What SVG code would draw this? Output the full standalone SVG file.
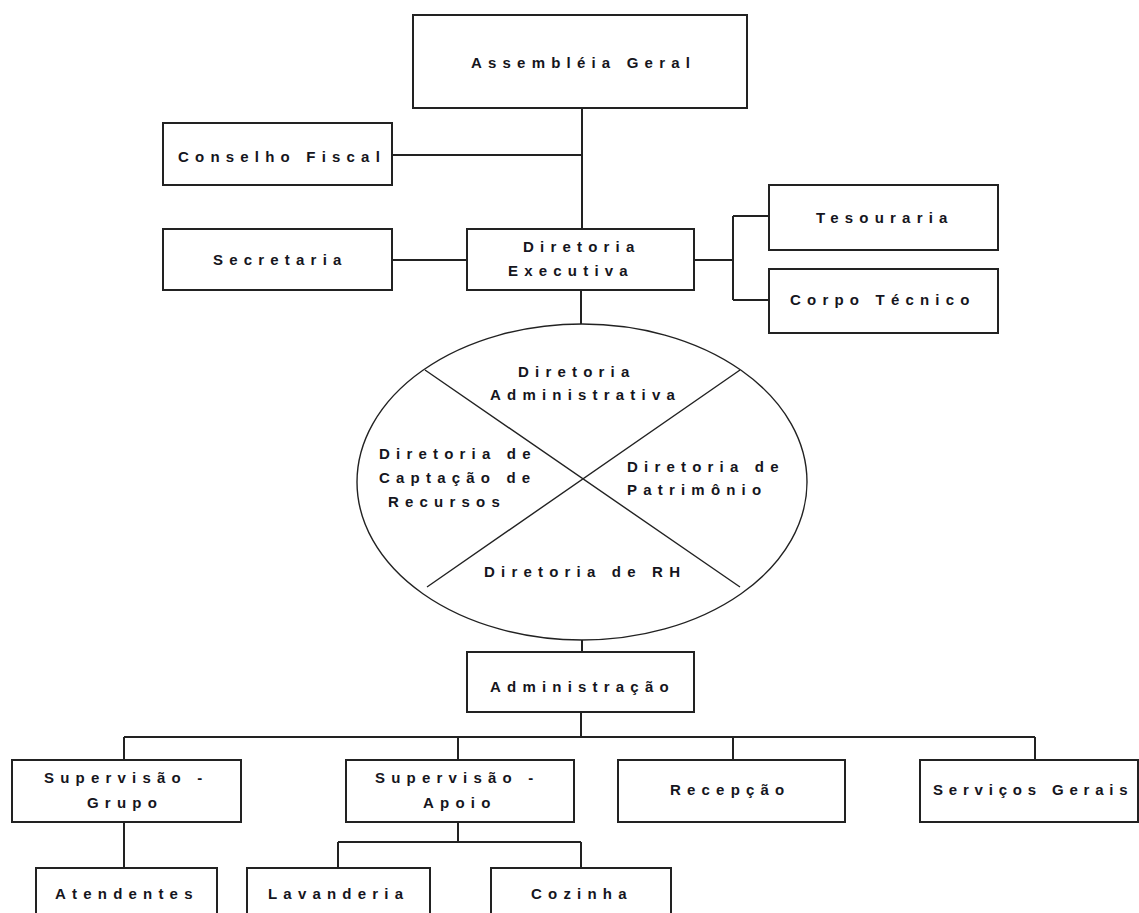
<svg xmlns="http://www.w3.org/2000/svg" width="1139" height="913" viewBox="0 0 1139 913">
<style>
.box{fill:#fff;stroke:#222;stroke-width:2}
.ell{fill:#fff;stroke:#222;stroke-width:1.4}
.con{fill:none;stroke:#222;stroke-width:2}
.div{fill:none;stroke:#222;stroke-width:1.4}
text{font-family:"Liberation Sans",Arial,sans-serif;font-weight:bold;font-size:15px;letter-spacing:6.2px;fill:#151520}
</style>
<rect width="1139" height="913" fill="#fff"/>
<g id="connectors">
<path class="con" d="M582 108V229M392 155H582"/>
<path class="con" d="M392 260H467"/>
<path class="con" d="M694 260H733M733 216V300M733 216H769M733 300H769"/>
<path class="con" d="M581 290V324"/>
<path class="con" d="M582 640V652"/>
<path class="con" d="M581 712V737M124 737H1035M124 737V760M458 737V760M733 737V760M1035 737V760"/>
<path class="con" d="M124 822V868"/>
<path class="con" d="M458 822V842M338 842H581M338 842V868M581 842V868"/>
</g>
<g id="assembleia"><rect class="box" x="413" y="15" width="334" height="93"/><text x="471" y="68">Assembléia Geral</text></g>
<g id="conselho"><rect class="box" x="163" y="123" width="229" height="62"/><text x="178" y="162">Conselho Fiscal</text></g>
<g id="secretaria"><rect class="box" x="163" y="229" width="229" height="61"/><text x="213" y="265">Secretaria</text></g>
<g id="diretoria-executiva"><rect class="box" x="467" y="229" width="227" height="61"/><text x="523" y="252">Diretoria</text><text x="508" y="276">Executiva</text></g>
<g id="tesouraria"><rect class="box" x="769" y="185" width="229" height="65"/><text x="816" y="223">Tesouraria</text></g>
<g id="corpo-tecnico"><rect class="box" x="769" y="269" width="229" height="64"/><text x="790" y="305">Corpo Técnico</text></g>
<g id="diretorias">
<ellipse class="ell" cx="582" cy="482" rx="225" ry="158"/>
<path class="div" d="M425 370L740 587M740 370L427 587"/>
<text x="518" y="377">Diretoria</text>
<text x="490" y="400">Administrativa</text>
<text x="379" y="459">Diretoria de</text>
<text x="379" y="483">Captação de</text>
<text x="388" y="507">Recursos</text>
<text x="627" y="472">Diretoria de</text>
<text x="627" y="495">Patrimônio</text>
<text x="484" y="577">Diretoria de RH</text>
</g>
<g id="administracao"><rect class="box" x="467" y="652" width="227" height="60"/><text x="490" y="692">Administração</text></g>
<g id="sup-grupo"><rect class="box" x="12" y="760" width="229" height="62"/><text x="44" y="783">Supervisão -</text><text x="87" y="808">Grupo</text></g>
<g id="sup-apoio"><rect class="box" x="346" y="760" width="228" height="62"/><text x="375" y="783">Supervisão -</text><text x="423" y="808">Apoio</text></g>
<g id="recepcao"><rect class="box" x="618" y="760" width="227" height="62"/><text x="670" y="795">Recepção</text></g>
<g id="servicos-gerais"><rect class="box" x="920" y="760" width="218" height="62"/><text x="933" y="795" style="letter-spacing:5.8px">Serviços Gerais</text></g>
<g id="atendentes"><rect class="box" x="36" y="868" width="181" height="60"/><text x="55" y="899">Atendentes</text></g>
<g id="lavanderia"><rect class="box" x="247" y="868" width="183" height="60"/><text x="268" y="899">Lavanderia</text></g>
<g id="cozinha"><rect class="box" x="491" y="868" width="180" height="60"/><text x="531" y="899">Cozinha</text></g>
</svg>
